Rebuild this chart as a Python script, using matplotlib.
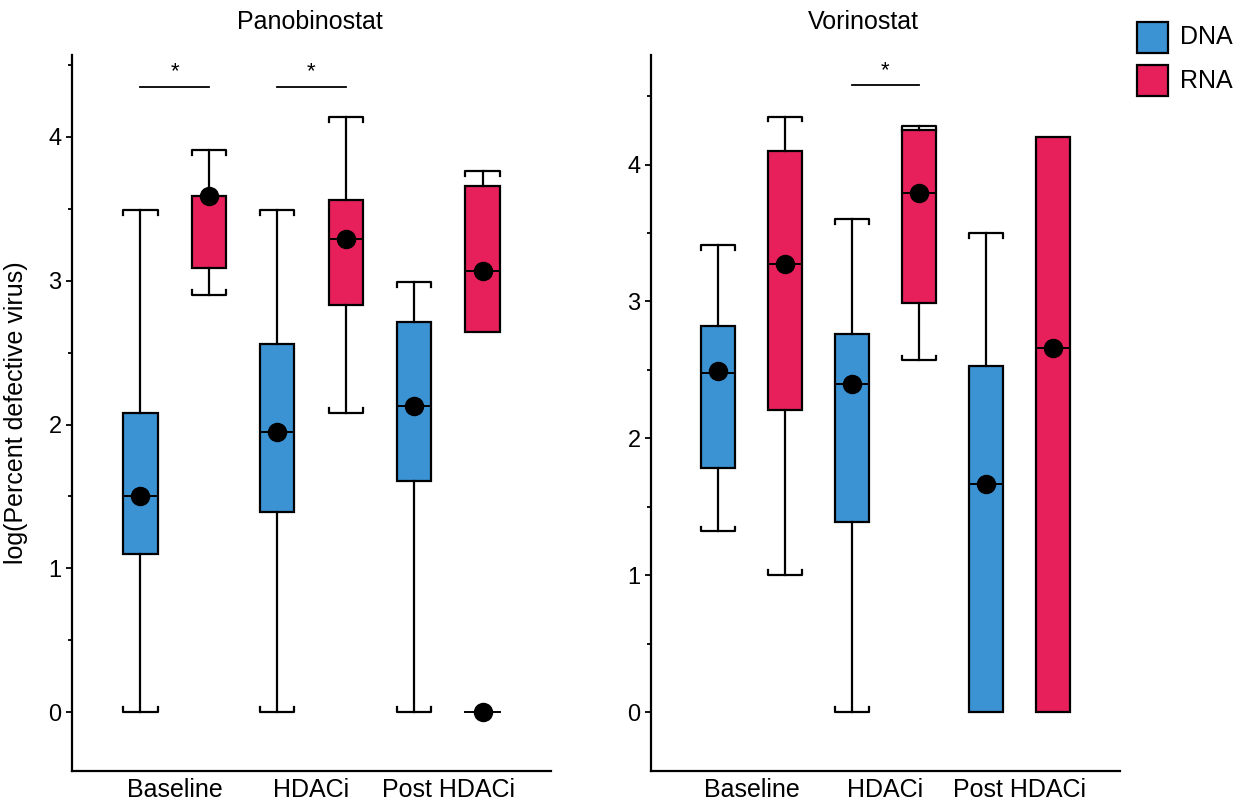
import matplotlib
matplotlib.use("Agg")
import matplotlib.pyplot as plt
from matplotlib.patches import Rectangle

plt.rcParams['font.family'] = ['Liberation Sans', 'DejaVu Sans']

# Boxen-Reihenfolge: Baseline DNA, Baseline RNA, HDACi DNA, HDACi RNA, Post DNA, Post RNA
groups = ["Baseline", "HDACi", "Post HDACi"]
series = ["DNA", "RNA"]
colors = {"DNA": "#3b93d3", "RNA": "#e7205b"}

pano_whislo = [0.0, 2.90, 0.0, 2.08, 0.0, 2.64]
pano_q1 = [1.10, 3.09, 1.39, 2.83, 1.61, 2.64]
pano_med = [1.50, 3.59, 1.95, 3.29, 2.13, 3.07]
pano_q3 = [2.08, 3.59, 2.56, 3.56, 2.71, 3.66]
pano_whishi = [3.49, 3.91, 3.49, 4.14, 2.99, 3.76]
pano_mean = [1.50, 3.59, 1.95, 3.29, 2.13, 3.07]
pano_extra_pos = [6]
pano_extra_val = [0.0]
pano_sig = [(1, 2), (3, 4)]
pano_sig_y = 4.35

vori_whislo = [1.32, 1.00, 0.0, 2.57, 0.0, 0.0]
vori_q1 = [1.78, 2.21, 1.39, 2.99, 0.0, 0.0]
vori_med = [2.48, 3.27, 2.40, 3.79, 1.67, 2.66]
vori_q3 = [2.82, 4.10, 2.76, 4.25, 2.53, 4.20]
vori_whishi = [3.41, 4.35, 3.60, 4.28, 3.50, 4.20]
vori_mean = [2.49, 3.27, 2.40, 3.79, 1.67, 2.66]
vori_extra_pos = []
vori_extra_val = []
vori_sig = [(3, 4)]
vori_sig_y = 4.58

W = 0.5      # Boxbreite
HOOK = 0.035  # Hakenlänge der Whisker-Kappen


def draw_panel(ax, title, tx, whislo, q1, med, q3, whishi, mean, extra_pos, extra_val, sig, sig_y, ylim):
    pos = list(range(1, 7))
    stats = []
    for i in range(6):
        stats.append({"whislo": whislo[i], "q1": q1[i], "med": med[i], "q3": q3[i],
                      "whishi": whishi[i], "mean": mean[i], "fliers": []})
    bp = ax.bxp(stats, positions=pos, widths=W, patch_artist=True, showcaps=False,
                showmeans=True, showfliers=False,
                boxprops=dict(edgecolor="black", linewidth=1.6),
                whiskerprops=dict(color="black", linewidth=1.6),
                medianprops=dict(color="black", linewidth=1.4),
                meanprops=dict(marker="o", markerfacecolor="black", markeredgecolor="black",
                               markersize=13))
    for i, b in enumerate(bp["boxes"]):
        b.set_facecolor(colors[series[i % 2]])
        b.set_zorder(2)
    for m in bp["means"]:
        m.set_zorder(4)

    # Kappen mit kleinen Haken zum Kasten hin
    for i, p in enumerate(pos):
        x0, x1 = p - W / 2, p + W / 2
        if whishi[i] > q3[i]:
            y = whishi[i]
            ax.plot([x0, x0, x1, x1], [y - HOOK, y, y, y - HOOK], color="black", lw=1.6, zorder=3)
        if whislo[i] < q1[i]:
            y = whislo[i]
            ax.plot([x0, x0, x1, x1], [y + HOOK, y, y, y + HOOK], color="black", lw=1.6, zorder=3)

    for p, v in zip(extra_pos, extra_val):
        ax.plot([p - W / 2, p + W / 2], [v, v], color="black", lw=1.4, zorder=3)
        ax.plot([p], [v], "o", color="black", markersize=13, zorder=4)

    for a, b in sig:
        ax.plot([a, b], [sig_y, sig_y], color="black", lw=1.3)
        ax.text((a + b) / 2, sig_y + 0.03, "*", ha="center", va="bottom", fontsize=16)

    ax.set_xlim(0, 7)
    ax.set_ylim(*ylim)
    ax.set_xticks([1.5, 3.5, 5.5])
    ax.set_xticklabels(groups, fontsize=18)
    ax.tick_params(axis="x", length=0, pad=5)
    ax.set_yticks([0, 1, 2, 3, 4])
    ax.set_yticks([0.5, 1.5, 2.5, 3.5, 4.5], minor=True)
    ax.tick_params(axis="y", which="major", length=4.5, width=1.3, labelsize=17, pad=3)
    ax.tick_params(axis="y", which="minor", length=3, width=1.3)
    for s in ["top", "right"]:
        ax.spines[s].set_visible(False)
    for s in ["left", "bottom"]:
        ax.spines[s].set_linewidth(1.6)
    ax.text(tx, 1 + 33 / 716, title, transform=ax.transAxes, ha="center", va="center", fontsize=18)


fig = plt.figure(figsize=(12.43, 8.06), dpi=100)
ax1 = fig.add_axes([72 / 1243, 35 / 806, 479 / 1243, 716 / 806])
ax2 = fig.add_axes([651 / 1243, 35 / 806, 469 / 1243, 716 / 806])

draw_panel(ax1, "Panobinostat", 0.497, pano_whislo, pano_q1, pano_med, pano_q3, pano_whishi, pano_mean,
           pano_extra_pos, pano_extra_val, pano_sig, pano_sig_y, (-0.41, 4.57))
draw_panel(ax2, "Vorinostat", 0.452, vori_whislo, vori_q1, vori_med, vori_q3, vori_whishi, vori_mean,
           vori_extra_pos, vori_extra_val, vori_sig, vori_sig_y, (-0.43, 4.80))

ax1.set_ylabel("log(Percent defective virus)", fontsize=18)
ax1.yaxis.set_label_coords(-0.092, 0.5)

# Legende
for i, s in enumerate(series):
    ytop = 22 + i * 43
    fig.add_artist(Rectangle((1137 / 1243, 1 - (ytop + 31) / 806), 31 / 1243, 31 / 806,
                             transform=fig.transFigure, facecolor=colors[s], edgecolor="black", lw=1.6))
    fig.text(1180 / 1243, 1 - (ytop + 15.5) / 806, s, ha="left", va="center", fontsize=18)

fig.savefig("out.png", dpi=100)
